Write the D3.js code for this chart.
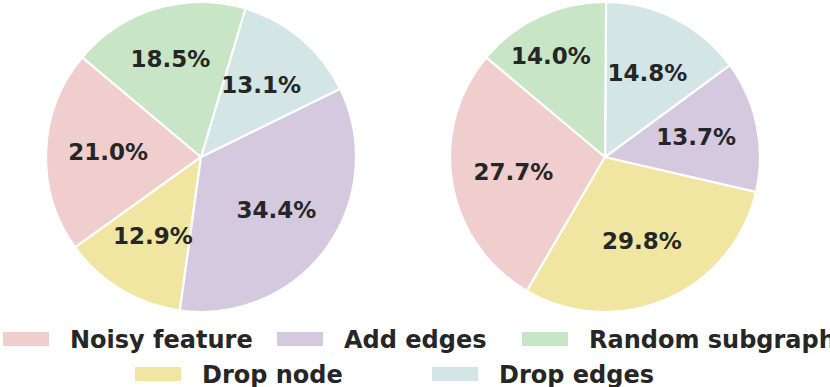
<!DOCTYPE html>
<html>
<head>
<meta charset="utf-8">
<script src="https://cdn.jsdelivr.net/npm/d3@7"></script>
<style>
  body { margin: 0; background: #fff; }
  svg { display: block; }
  text { font-family: "DejaVu Sans", sans-serif; font-weight: bold; fill: #262626; }
</style>
</head>
<body>
<div id="chart"></div>
<script>
// slice order (counter-clockwise from 140deg, like matplotlib startangle=140)
var categories = ['Noisy feature', 'Drop node', 'Add edges', 'Drop edges', 'Random subgraph'];
var leftValues = [21.0, 12.9, 34.4, 13.1, 18.5];
var rightValues = [27.7, 29.8, 13.7, 14.8, 14.0];
var sliceColors = ['#f1cece', '#f0e6a2', '#d4c9de', '#d4e5e5', '#c8e5c6'];
var legendRows = [['Noisy feature', 'Add edges', 'Random subgraph'], ['Drop node', 'Drop edges']];

var width = 830, height = 387;
var radius = 155;

var svg = d3.select('#chart').append('svg')
    .attr('width', width)
    .attr('height', height);

var color = d3.scaleOrdinal().domain(categories).range(sliceColors);

var startDeg = 90 - 140; // d3 angles are clockwise from 12 o'clock
var pie = d3.pie()
    .value(function (d) { return d.value; })
    .sort(null)
    .startAngle(startDeg * Math.PI / 180)
    .endAngle((startDeg - 360) * Math.PI / 180);

var arc = d3.arc().innerRadius(0).outerRadius(radius);
var labelArc = d3.arc().innerRadius(radius * 0.6).outerRadius(radius * 0.6);

// the 'Random subgraph' labels were moved a bit outwards in the original
function labelShift(name, side) {
    if (name !== 'Random subgraph') return [0, 0];
    return side === 'left' ? [-4, -8] : [-15, -15];
}

function drawPie(cx, cy, values, side) {
    var data = categories.map(function (c, i) { return {segment: c, value: values[i]}; });
    var g = svg.append('g').attr('transform', 'translate(' + cx + ',' + cy + ')');
    var arcs = pie(data);
    g.selectAll('path')
        .data(arcs)
        .enter()
        .append('path')
        .attr('d', arc)
        .attr('fill', function (d) { return color(d.data.segment); })
        .attr('stroke', '#fff')
        .attr('stroke-width', 2.2)
        .attr('stroke-linejoin', 'round');
    g.selectAll('text')
        .data(arcs)
        .enter()
        .append('text')
        .attr('transform', function (d) {
            var c = labelArc.centroid(d);
            var s = labelShift(d.data.segment, side);
            return 'translate(' + (c[0] + s[0]) + ',' + (c[1] + s[1]) + ')';
        })
        .attr('text-anchor', 'middle')
        .attr('dy', '0.3em')
        .attr('font-size', 23)
        .text(function (d) { return d.data.value.toFixed(1) + '%'; });
}

drawPie(201, 157, leftValues, 'left');
drawPie(605, 157, rightValues, 'right');

// legend
var rowItemX = [[3, 277, 522], [135, 432]];
var rowY = [339, 374];
var patchW = 46, patchH = 14, textGap = 21;

legendRows.forEach(function (row, r) {
    row.forEach(function (name, i) {
        var x = rowItemX[r][i];
        svg.append('rect')
            .attr('x', x)
            .attr('y', rowY[r] - patchH / 2)
            .attr('width', patchW)
            .attr('height', patchH)
            .attr('fill', color(name));
        svg.append('text')
            .attr('x', x + patchW + textGap)
            .attr('y', rowY[r])
            .attr('dy', '0.36em')
            .attr('font-size', 24)
            .text(name);
    });
});
</script>
</body>
</html>
